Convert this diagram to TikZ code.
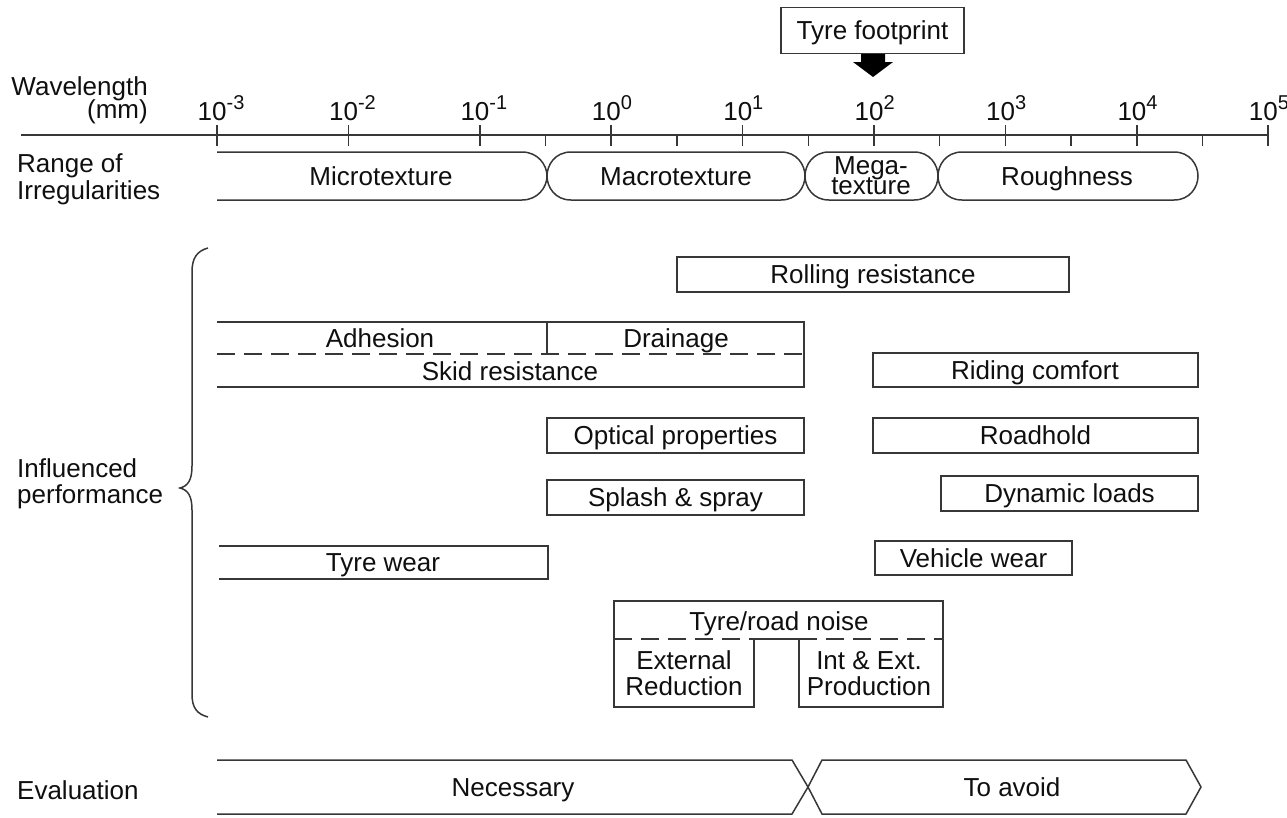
\documentclass[tikz,border=0pt]{standalone}
\usepackage{fontspec}
\setmainfont{Liberation Sans}
\definecolor{lc}{RGB}{55,55,55}
\definecolor{tc}{RGB}{15,15,15}
\newcommand\figfont{\fontsize{26}{26}\selectfont}
\newcommand\tenp[1]{10\raisebox{11pt}{\fontsize{20}{20}\selectfont #1}}
\tikzset{
  ln/.style={draw=lc, line width=1.5pt},
  dln/.style={draw=lc, line width=1.5pt, dash pattern=on 18pt off 9pt},
  txt/.style={inner sep=0pt, text height=18.6pt, text depth=0pt, font=\figfont, text=tc},
}
\begin{document}
\begin{tikzpicture}[x=1pt, y=-1pt]
\useasboundingbox (0,0) rectangle (1287,817);
% ---------- axis ----------
\node[txt, anchor=east] (wl) at (148,86) {Wavelength};
\node[txt, anchor=east] (mm) at (148,109.5) {(mm)};
\coordinate (axL) at (21,135);
\coordinate (axR) at (1268,135);
\draw[ln] (axL) -- (axR);
\foreach \k/\e in {0/-3,1/-2,2/-1,3/0,4/1,5/2,6/3,7/4,8/5}{
  \pgfmathsetmacro\xx{217+131.4*\k}
  \draw[ln] (\xx,125) -- (\xx,146);
  \node[txt, anchor=west] (lab\k) at (\xx-19.5,111) {\tenp{\e}};
}
\foreach \k in {2.5,3.5,4.5,5.5,6.5,7.5}{
  \pgfmathsetmacro\xx{217+131.4*\k}
  \draw[ln] (\xx,135) -- (\xx,146);
}
% tyre footprint
\node[ln, txt, minimum width=183pt, minimum height=46pt] (tf) at (872.5,30.5) {Tyre footprint};
\fill[black] (861,54) -- (885,54) -- (885,62) -- (893,62) -- (873,77) -- (853,62) -- (861,62) -- cycle;
% ---------- range of irregularities ----------
\node[txt, anchor=west] (roi1) at (17,163) {Range of};
\node[txt, anchor=west] (roi2) at (17,190) {Irregularities};
\draw[ln] (217,152) -- (522,152) .. controls (538,152) and (547,165) .. (547,176)
  .. controls (547,187) and (538,200) .. (522,200) -- (217,200);
\draw[ln] (571,152) -- (781,152) .. controls (797,152) and (805,165) .. (805,176)
  .. controls (805,187) and (797,200) .. (781,200) -- (571,200)
  .. controls (555,200) and (547,187) .. (547,176) .. controls (547,165) and (555,152) .. (571,152) -- cycle;
\draw[ln] (829,152) -- (914,152) .. controls (930,152) and (938,165) .. (938,176)
  .. controls (938,187) and (930,200) .. (914,200) -- (829,200)
  .. controls (813,200) and (805,187) .. (805,176) .. controls (805,165) and (813,152) .. (829,152) -- cycle;
\draw[ln] (962,152) -- (1174,152) .. controls (1190,152) and (1198,165) .. (1198,176)
  .. controls (1198,187) and (1190,200) .. (1174,200) -- (962,200)
  .. controls (946,200) and (938,187) .. (938,176) .. controls (938,165) and (946,152) .. (962,152) -- cycle;
\node[txt] (micro) at (381,176) {Microtexture};
\node[txt] (macro) at (676,176) {Macrotexture};
\node[txt] (mega1) at (871,165) {Mega-};
\node[txt] (mega2) at (871,185) {texture};
\node[txt] (rough) at (1067,176) {Roughness};
% ---------- influenced performance ----------
\node[txt, anchor=west] (ip1) at (17,468) {Influenced};
\node[txt, anchor=west] (ip2) at (17,494) {performance};
\draw[ln] (208,248) .. controls (197,251) and (192,258) .. (192,272) -- (192,466)
  .. controls (192,480) and (188,486) .. (180,488)
  .. controls (188,490) and (192,496) .. (192,510) -- (192,694)
  .. controls (192,708) and (197,714) .. (208,717);
% rolling resistance
\draw[ln] (677,257) rectangle (1069,292);
\node[txt] (rr) at (873,274.5) {Rolling resistance};
% adhesion / drainage / skid
\draw[ln] (217,322) -- (804,322) -- (804,387) -- (217,387);
\draw[dln] (217,354) -- (804,354);
\draw[ln] (547,322) -- (547,354);
\node[txt] (adh) at (380,338) {Adhesion};
\node[txt] (drn) at (676,338) {Drainage};
\node[txt] (skid) at (510,371) {Skid resistance};
% riding comfort
\draw[ln] (873,353) rectangle (1198,387);
\node[txt] (rc) at (1035,370) {Riding comfort};
% optical properties
\draw[ln] (547,418) rectangle (804,453);
\node[txt] (op) at (675.5,435.5) {Optical properties};
% roadhold
\draw[ln] (873,418) rectangle (1198,453);
\node[txt] (rh) at (1035.5,435.5) {Roadhold};
% splash & spray
\draw[ln] (547,480) rectangle (804,515);
\node[txt] (ss) at (675.5,497.5) {Splash \& spray};
% dynamic loads
\draw[ln] (941,476) rectangle (1198,511);
\node[txt] (dl) at (1069.5,493.5) {Dynamic loads};
% tyre wear
\draw[ln] (219,546) -- (548,546) -- (548,579) -- (219,579);
\node[txt] (tw) at (383,562.5) {Tyre wear};
% vehicle wear
\draw[ln] (875,541) rectangle (1072,575);
\node[txt] (vw) at (973.5,558) {Vehicle wear};
% tyre/road noise
\draw[ln] (614,639) -- (614,601) -- (943,601) -- (943,707) -- (799,707) -- (799,639) -- (754,639) -- (754,707) -- (614,707) -- (614,639);
\draw[dln] (614,639) -- (754,639);
\draw[dln] (799,639) -- (943,639);
\node[txt] (trn) at (779,621) {Tyre/road noise};
\node[txt] (ext1) at (684,660) {External};
\node[txt] (ext2) at (684,686) {Reduction};
\node[txt] (int1) at (869,660) {Int \& Ext.};
\node[txt] (int2) at (869,686) {Production};
% ---------- evaluation ----------
\node[txt, anchor=west] (ev) at (17,790) {Evaluation};
\draw[ln] (217,760) -- (792,760) -- (808,787) -- (792,814) -- (217,814);
\draw[ln] (822,760) -- (1186,760) -- (1201,787) -- (1186,814) -- (822,814) -- (808,787) -- cycle;
\node[txt] (nec) at (513,787) {Necessary};
\node[txt] (avo) at (1012,787) {To avoid};
\end{tikzpicture}
\end{document}
